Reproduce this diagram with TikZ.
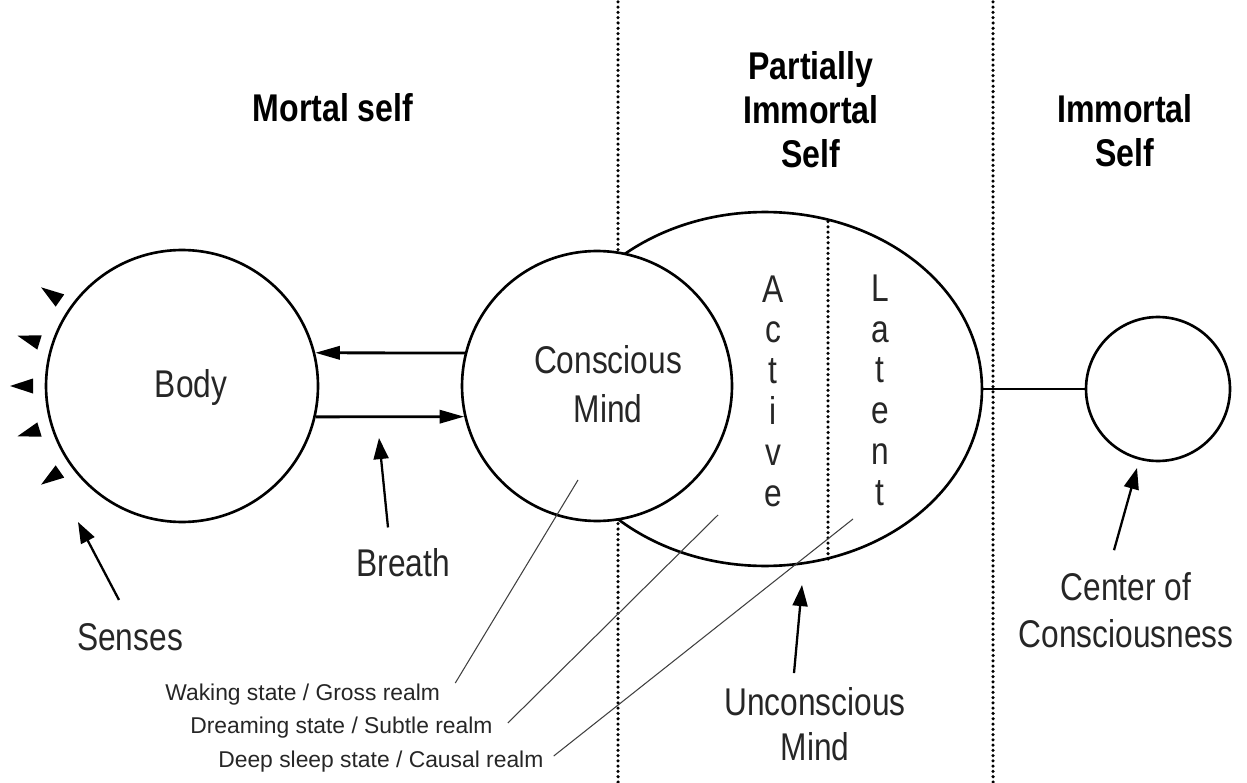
\documentclass[tikz,border=0pt]{standalone}
\usepackage{fontspec}
\setmainfont{Liberation Sans}
\newfontfamily\lblfont[FakeStretch=0.82]{Liberation Sans}
\newfontfamily\hdfont[FakeStretch=0.83]{Liberation Sans Bold}
\usetikzlibrary{shapes.geometric,arrows.meta}

\begin{document}
\begin{tikzpicture}[x=0.02cm,y=0.02cm]
\tikzstyle{every node}+=[inner sep=0pt]
\tikzstyle{rim}=[draw=black,line width=1.5pt,fill=white]
\tikzstyle{divider}=[black,line width=2pt,line cap=round,dash pattern=on 0pt off 3pt]
\tikzstyle{flow}=[black,line width=1.6pt,-{Triangle[length=14pt,width=7.5pt]}]
\tikzstyle{pointer}=[black,line width=1.3pt,-{Triangle[length=12pt,width=8.5pt]}]
\tikzstyle{leader}=[black!75,line width=0.6pt]
\tikzstyle{head}=[font=\hdfont\fontsize{22}{25}\selectfont,align=center]
\tikzstyle{lbl}=[font=\lblfont\fontsize{22}{26.5}\selectfont,align=center,text=black!85]
\tikzstyle{state}=[font=\fontsize{13}{15}\selectfont,anchor=west,text=black!85]
\useasboundingbox (0,0) rectangle (1247,782);

\draw[divider] (618,0) -- (618,782);
\draw[divider] (993,0) -- (993,782);

\node[rim,ellipse,minimum width=8.68cm,minimum height=7.08cm] (unconscious) at (765,393) {};
\draw[divider] (828,223) -- (828,561);
\node[rim,circle,minimum size=5.4cm] (conscious) at (597,396) {};
\node[rim,circle,minimum size=5.44cm] (body) at (182,396) {};
\node[rim,circle,minimum size=2.88cm] (centre) at (1158,393) {};
\draw[black,line width=1.3pt] (unconscious.east) -- (centre.west);

\foreach \a in {145,163,180,197,215}
  \fill[shift={(body.center)},rotate=\a] (149,7.5) -- (172,0) -- (149,-7.5) -- cycle;

\draw[flow] (conscious.166) -- (body.14);
\draw[flow] (body.-13) -- (conscious.193);

\node[head] (mortal) at (333,674) {Mortal self};
\node[head] (partial) at (811,672) {Partially\\Immortal\\Self};
\node[head] (immortal) at (1125,651) {Immortal\\Self};

\node[lbl] (bodyname) at (191,394) {Body};
\node[lbl,font=\lblfont\fontsize{22}{28}\selectfont] (consciousname) at (608,398) {Conscious\\Mind};
\node[lbl,font=\lblfont\fontsize{22}{23.2}\selectfont] (active) at (773,391) {A\\c\\t\\i\\v\\e};
\node[lbl,font=\lblfont\fontsize{22}{23.2}\selectfont] (latent) at (880,392) {L\\a\\t\\e\\n\\t};
\node[lbl] (senses) at (130,145) {Senses};
\node[lbl] (breath) at (403,219) {Breath};
\node[lbl,font=\lblfont\fontsize{22}{25.5}\selectfont] (unconsciousname) at (815,58) {Unconscious\\Mind};
\node[lbl] (centrename) at (1126,172) {Center of\\Consciousness};

\node[state] (waking) at (165,87) {Waking state / Gross realm};
\node[state] (dreaming) at (190,54) {Dreaming state / Subtle realm};
\node[state] (deepsleep) at (218,20) {Deep sleep state / Causal realm};

\coordinate (waking end) at (578,302);
\coordinate (dreaming end) at (718,267);
\coordinate (deepsleep end) at (853,263);
\draw[leader] ([shift={(15,12)}]waking.east) -- (waking end);
\draw[leader] ([shift={(15,5)}]dreaming.east) -- (dreaming end);
\draw[leader] ([shift={(10,6)}]deepsleep.east) -- (deepsleep end);

\coordinate (senses tip) at (78,260);
\coordinate (breath tip) at (379,344);
\coordinate (unconscious tip) at (802,197);
\coordinate (centre tip) at (1137,314);
\draw[pointer] ([shift={(-11,23)}]senses.north) -- (senses tip);
\draw[pointer] ([shift={(-15,21)}]breath.north) -- (breath tip);
\draw[pointer] ([shift={(-21,14)}]unconsciousname.north) -- (unconscious tip);
\draw[pointer] ([shift={(-12,22)}]centrename.north) -- (centre tip);
\end{tikzpicture}
\end{document}
